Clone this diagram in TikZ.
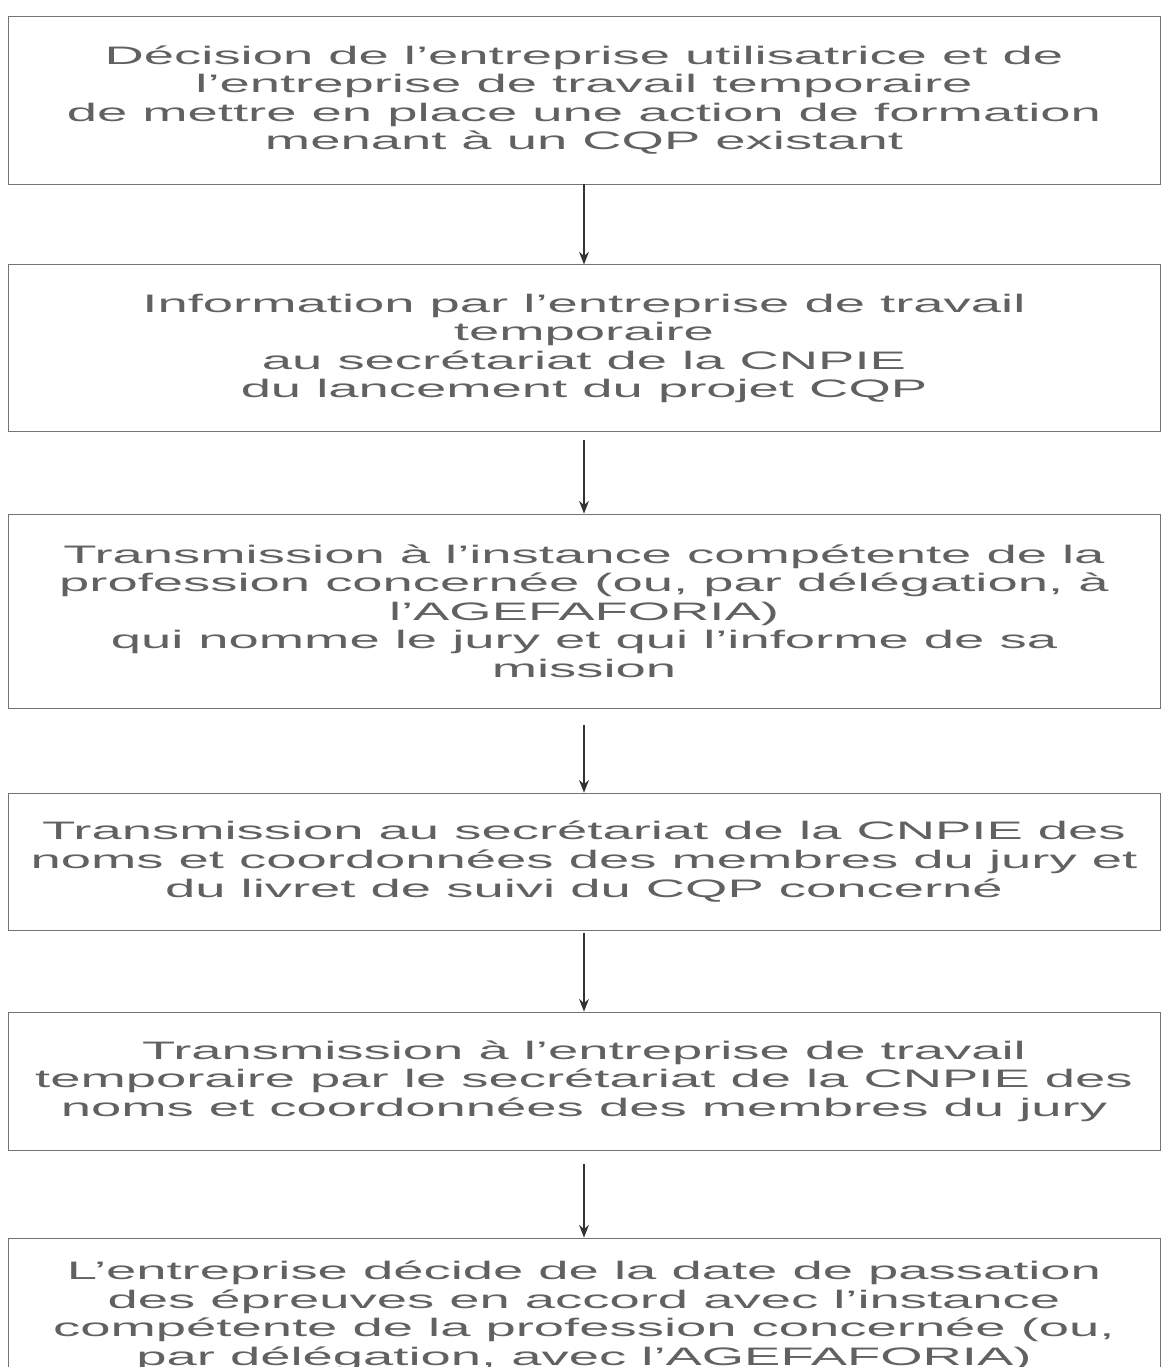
\documentclass[tikz,border=0pt]{standalone}
\usepackage{fontspec}
\usepackage{tikz}
\usetikzlibrary{arrows.meta}
\newfontfamily\stepfont[FakeStretch=2.15]{Liberation Sans}
\definecolor{scan gray}{rgb}{0.45, 0.45, 0.45}
\definecolor{scan text}{rgb}{0.38, 0.38, 0.38}

\begin{document}
\begin{tikzpicture}[
		flowbox/.style = {draw=scan gray, line width=0.6pt, minimum width=28.8cm,
			align=center, text=scan text, inner sep=0pt,
			font=\stepfont\fontsize{18}{20.3}\selectfont},
		flowarrow/.style = {-{Stealth[length=9pt, width=7pt]}, line width=0.9pt, black!80}
	]
			\useasboundingbox (0, 0) rectangle (29.1, -34.175);
			% the six steps
			\node[flowbox, minimum height=4.2cm] (decision) at (14.6, -2.5)
				{Décision de l’entreprise utilisatrice et de\\
				l’entreprise de travail temporaire\\
				de mettre en place une action de formation\\
				menant à un CQP existant};
			\node[flowbox, minimum height=4.175cm] (information) at (14.6, -8.71)
				{Information par l’entreprise de travail\\
				temporaire\\
				au secrétariat de la CNPIE\\
				du lancement du projet CQP};
			\node[flowbox, minimum height=4.85cm] (instance) at (14.6, -15.275)
				{Transmission à l’instance compétente de la\\
				profession concernée (ou, par délégation, à\\
				l’AGEFAFORIA)\\
				qui nomme le jury et qui l’informe de sa\\
				mission};
			\node[flowbox, minimum height=3.425cm] (jury) at (14.6, -21.54)
				{Transmission au secrétariat de la CNPIE des\\
				noms et coordonnées des membres du jury et\\
				du livret de suivi du CQP concerné};
			\node[flowbox, minimum height=3.45cm] (retour) at (14.6, -27.025)
				{Transmission à l’entreprise de travail\\
				temporaire par le secrétariat de la CNPIE des\\
				noms et coordonnées des membres du jury};
			\node[flowbox, minimum height=3.9cm] (epreuves) at (14.6, -32.9)
				{L’entreprise décide de la date de passation\\
				des épreuves en accord avec l’instance\\
				compétente de la profession concernée (ou,\\
				par délégation, avec l’AGEFAFORIA)};
			% arrows between the steps
			\foreach \from/\to/\gap in {decision/information/0, information/instance/0.2,
					instance/jury/0.425, jury/retour/0.05, retour/epreuves/0.33}
				\draw[flowarrow, shorten <=\gap cm] (\from.south) -- (\to.north);
		\end{tikzpicture}
\end{document}
